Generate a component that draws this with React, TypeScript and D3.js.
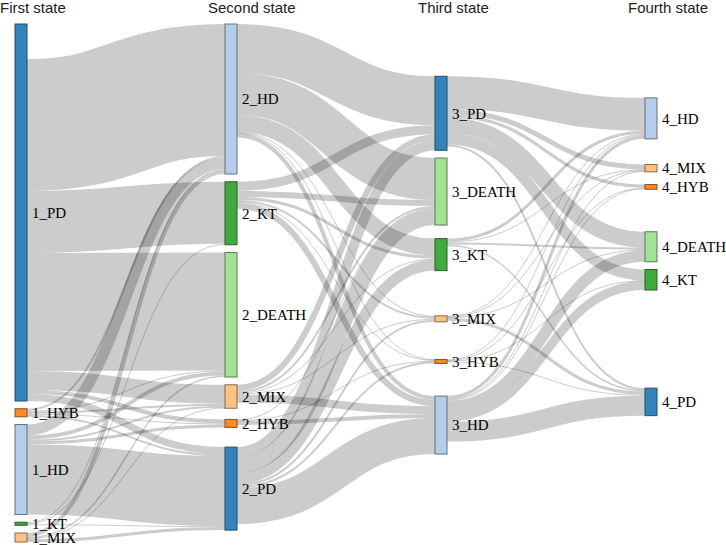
import * as d3 from 'd3';

// node order per column, top to bottom
const column1 = ['1_PD', '1_HYB', '1_HD', '1_KT', '1_MIX'];
const column2 = ['2_HD', '2_KT', '2_DEATH', '2_MIX', '2_HYB', '2_PD'];
const column3 = ['3_PD', '3_DEATH', '3_KT', '3_MIX', '3_HYB', '3_HD'];
const column4 = ['4_HD', '4_MIX', '4_HYB', '4_DEATH', '4_KT', '4_PD'];
const headers = ['First state', 'Second state', 'Third state', 'Fourth state'];

const states = ['PD', 'HD', 'KT', 'DEATH', 'MIX', 'HYB'];
const stateColors = ['#1f77b4', '#aec7e8', '#2ca02c', '#98df8a', '#ffbb78', '#ff7f0e'];

// patients in a node that leave without a drawn transition
const unobserved: [string, number][] = [['1_PD', 35]];

const flows12: [string, string, number][] = [
  ['1_PD', '2_HD', 132], ['1_PD', '2_KT', 62], ['1_PD', '2_DEATH', 118],
  ['1_PD', '2_MIX', 19], ['1_PD', '2_HYB', 4], ['1_PD', '2_PD', 7],
  ['1_HYB', '2_HD', 2], ['1_HYB', '2_DEATH', 1], ['1_HYB', '2_MIX', 2],
  ['1_HYB', '2_HYB', 1], ['1_HYB', '2_PD', 2],
  ['1_HD', '2_HD', 11], ['1_HD', '2_DEATH', 4],
  ['1_HD', '2_MIX', 2], ['1_HD', '2_HYB', 3], ['1_HD', '2_PD', 70],
  ['1_KT', '2_HD', 1], ['1_KT', '2_KT', 1], ['1_KT', '2_PD', 1],
  ['1_MIX', '2_HD', 4], ['1_MIX', '2_DEATH', 1.5], ['1_MIX', '2_MIX', 0.5], ['1_MIX', '2_PD', 3],
];

const flows23: [string, string, number][] = [
  ['2_HD', '3_PD', 49], ['2_HD', '3_DEATH', 42], ['2_HD', '3_KT', 17],
  ['2_HD', '3_MIX', 1], ['2_HD', '3_HYB', 0.5], ['2_HD', '3_HD', 4],
  ['2_KT', '3_PD', 9], ['2_KT', '3_DEATH', 6], ['2_KT', '3_KT', 3],
  ['2_KT', '3_MIX', 2], ['2_KT', '3_HYB', 1], ['2_KT', '3_HD', 6],
  ['2_MIX', '3_PD', 6], ['2_MIX', '3_DEATH', 2], ['2_MIX', '3_KT', 1],
  ['2_MIX', '3_MIX', 1], ['2_MIX', '3_HD', 8],
  ['2_HYB', '3_DEATH', 1], ['2_HYB', '3_HYB', 0.5], ['2_HYB', '3_HD', 4],
  ['2_PD', '3_PD', 10], ['2_PD', '3_DEATH', 16], ['2_PD', '3_KT', 11],
  ['2_PD', '3_MIX', 2], ['2_PD', '3_HYB', 2], ['2_PD', '3_HD', 36],
];

const flows34: [string, string, number][] = [
  ['3_PD', '4_HD', 33], ['3_PD', '4_MIX', 5], ['3_PD', '4_HYB', 3.2],
  ['3_PD', '4_DEATH', 16], ['3_PD', '4_KT', 11], ['3_PD', '4_PD', 2],
  ['3_KT', '4_HD', 3], ['3_KT', '4_MIX', 0.8], ['3_KT', '4_DEATH', 2], ['3_KT', '4_PD', 1.5],
  ['3_MIX', '4_HD', 1], ['3_MIX', '4_MIX', 0.5], ['3_MIX', '4_DEATH', 0.5], ['3_MIX', '4_PD', 3],
  ['3_HYB', '4_HD', 1], ['3_HYB', '4_HYB', 0.5], ['3_HYB', '4_KT', 0.5], ['3_HYB', '4_PD', 1],
  ['3_HD', '4_HD', 3], ['3_HD', '4_MIX', 1], ['3_HD', '4_HYB', 1],
  ['3_HD', '4_DEATH', 11.5], ['3_HD', '4_KT', 9], ['3_HD', '4_PD', 20],
];

const WIDTH = 726;
const HEIGHT = 545;
const margin = { top: 24, right: 69, bottom: 3, left: 15 };
const nodeWidth = 12;
const nodePadding = 7.75;
const iterations = 6;

interface SNode {
  name: string;
  col: number;
  value: number;
  lead: number;
  y0: number;
  y1: number;
  sourceLinks: SLink[];
  targetLinks: SLink[];
}

interface SLink {
  index: number;
  source: SNode;
  target: SNode;
  value: number;
  width: number;
  y0: number;
  y1: number;
}

// sankey layout in the style of d3-sankey, with the column order kept as given
function computeSankey(innerHeight: number) {
  const byName = new Map<string, SNode>();
  const cols: SNode[][] = [column1, column2, column3, column4].map((names, col) =>
    names.map(name => {
      const n: SNode = { name, col, value: 0, lead: 0, y0: 0, y1: 0, sourceLinks: [], targetLinks: [] };
      byName.set(name, n);
      return n;
    })
  );
  const nodes = cols.flat();

  const links: SLink[] = [...flows12, ...flows23, ...flows34].map(([s, t, value], index) => {
    const l: SLink = { index, source: byName.get(s)!, target: byName.get(t)!, value, width: 0, y0: 0, y1: 0 };
    l.source.sourceLinks.push(l);
    l.target.targetLinks.push(l);
    return l;
  });
  unobserved.forEach(([name, v]) => { byName.get(name)!.lead = v; });

  nodes.forEach(n => {
    n.value = Math.max(
      d3.sum(n.sourceLinks, l => l.value) + n.lead,
      d3.sum(n.targetLinks, l => l.value)
    );
  });

  const py = nodePadding;
  const ky = d3.min(cols, ns => (innerHeight - (ns.length - 1) * py) / d3.sum(ns, n => n.value))!;
  links.forEach(l => { l.width = l.value * ky; });

  const byTarget = (a: SLink, b: SLink) => (a.target.y0 - b.target.y0) || (a.index - b.index);
  const bySource = (a: SLink, b: SLink) => (a.source.y0 - b.source.y0) || (a.index - b.index);
  const reorderNodeLinks = (n: SNode) => {
    n.targetLinks.forEach(l => l.source.sourceLinks.sort(byTarget));
    n.sourceLinks.forEach(l => l.target.targetLinks.sort(bySource));
  };

  for (const ns of cols) {
    let y = 0;
    for (const n of ns) {
      n.y0 = y;
      n.y1 = y + n.value * ky;
      y = n.y1 + py;
    }
    const extra = (innerHeight - y + py) / (ns.length + 1);
    ns.forEach((n, i) => { n.y0 += extra * (i + 1); n.y1 += extra * (i + 1); });
    ns.forEach(n => { n.sourceLinks.sort(byTarget); n.targetLinks.sort(bySource); });
  }

  const targetTop = (source: SNode, target: SNode) => {
    let y = source.y0 + source.lead * ky - (source.sourceLinks.length - 1) * py / 2;
    for (const l of source.sourceLinks) {
      if (l.target === target) break;
      y += l.width + py;
    }
    for (const l of target.targetLinks) {
      if (l.source === source) break;
      y -= l.width;
    }
    return y;
  };

  const sourceTop = (source: SNode, target: SNode) => {
    let y = target.y0 - (target.targetLinks.length - 1) * py / 2;
    for (const l of target.targetLinks) {
      if (l.source === source) break;
      y += l.width + py;
    }
    for (const l of source.sourceLinks) {
      if (l.target === target) break;
      y -= l.width;
    }
    return y - source.lead * ky;
  };

  const pushDown = (ns: SNode[], y: number, i: number, a: number) => {
    for (; i < ns.length; ++i) {
      const n = ns[i];
      const d = (y - n.y0) * a;
      if (d > 1e-6) { n.y0 += d; n.y1 += d; }
      y = n.y1 + py;
    }
  };
  const pushUp = (ns: SNode[], y: number, i: number, a: number) => {
    for (; i >= 0; --i) {
      const n = ns[i];
      const d = (n.y1 - y) * a;
      if (d > 1e-6) { n.y0 -= d; n.y1 -= d; }
      y = n.y0 - py;
    }
  };
  const resolveCollisions = (ns: SNode[], a: number) => {
    const i = ns.length >> 1;
    const subject = ns[i];
    pushUp(ns, subject.y0 - py, i - 1, a);
    pushDown(ns, subject.y1 + py, i + 1, a);
    pushUp(ns, innerHeight, ns.length - 1, a);
    pushDown(ns, 0, 0, a);
  };

  for (let i = 0; i < iterations; ++i) {
    const alpha = Math.pow(0.99, i);
    const beta = Math.max(1 - alpha, (i + 1) / iterations);

    for (let c = cols.length - 2; c >= 0; --c) {
      for (const source of cols[c]) {
        let y = 0, w = 0;
        for (const l of source.sourceLinks) {
          const v = l.value * (l.target.col - source.col);
          y += sourceTop(source, l.target) * v;
          w += v;
        }
        if (!(w > 0)) continue;
        const d = (y / w - source.y0) * alpha;
        source.y0 += d;
        source.y1 += d;
        reorderNodeLinks(source);
      }
      resolveCollisions(cols[c], beta);
    }

    for (let c = 1; c < cols.length; ++c) {
      for (const target of cols[c]) {
        let y = 0, w = 0;
        for (const l of target.targetLinks) {
          const v = l.value * (target.col - l.source.col);
          y += targetTop(l.source, target) * v;
          w += v;
        }
        if (!(w > 0)) continue;
        const d = (y / w - target.y0) * alpha;
        target.y0 += d;
        target.y1 += d;
        reorderNodeLinks(target);
      }
      resolveCollisions(cols[c], beta);
    }
  }

  nodes.forEach(n => { n.sourceLinks.sort(byTarget); n.targetLinks.sort(bySource); });
  nodes.forEach(n => {
    let ys = n.y0 + n.lead * ky;
    let yt = n.y0;
    n.sourceLinks.forEach(l => { l.y0 = ys + l.width / 2; ys += l.width; });
    n.targetLinks.forEach(l => { l.y1 = yt + l.width / 2; yt += l.width; });
  });

  return { nodes, links };
}

const App = () => {
  const innerHeight = HEIGHT - margin.top - margin.bottom;
  const { nodes, links } = computeSankey(innerHeight);

  const x = d3.scaleLinear()
    .domain([0, headers.length - 1])
    .range([margin.left, WIDTH - margin.right - nodeWidth]);
  const color = d3.scaleOrdinal<string, string>().domain(states).range(stateColors);
  const stateOf = (name: string) => name.split('_')[1];
  const linkPath = d3.linkHorizontal();

  const sortedLinks = links.slice().sort((a, b) => b.width - a.width);

  return (
    <svg width={WIDTH} height={HEIGHT} style={{ position: 'absolute', left: 0, top: 0 }}>
      {headers.map((h, i) => (
        <text key={h} x={Math.max(0, x(i) - 17)} y={13}
          fontFamily="'Liberation Sans', Arial, sans-serif" fontSize={15} fill="#222">
          {h}
        </text>
      ))}
      <g transform={`translate(0,${margin.top})`}>
        {sortedLinks.map(l => (
          <path key={l.index}
            d={linkPath({
              source: [x(l.source.col) + nodeWidth, l.y0],
              target: [x(l.target.col), l.y1],
            }) ?? ''}
            fill="none" stroke="#000" strokeOpacity={0.2}
            strokeWidth={Math.max(1, l.width)} />
        ))}
        {nodes.map(n => {
          const c = color(stateOf(n.name));
          const h = n.y1 - n.y0;
          return (
            <g key={n.name} transform={`translate(${x(n.col)},${n.y0})`}>
              <rect width={nodeWidth} height={Math.max(h, 1)} fill={c}
                stroke={d3.rgb(c).darker(2).toString()} strokeWidth={1} opacity={0.9} />
              <text x={nodeWidth + 5} y={h / 2} dy="0.35em"
                fontFamily="'Liberation Serif', 'Times New Roman', serif" fontSize={15} fill="#000">
                {n.name}
              </text>
            </g>
          );
        })}
      </g>
    </svg>
  );
};

export default App;
